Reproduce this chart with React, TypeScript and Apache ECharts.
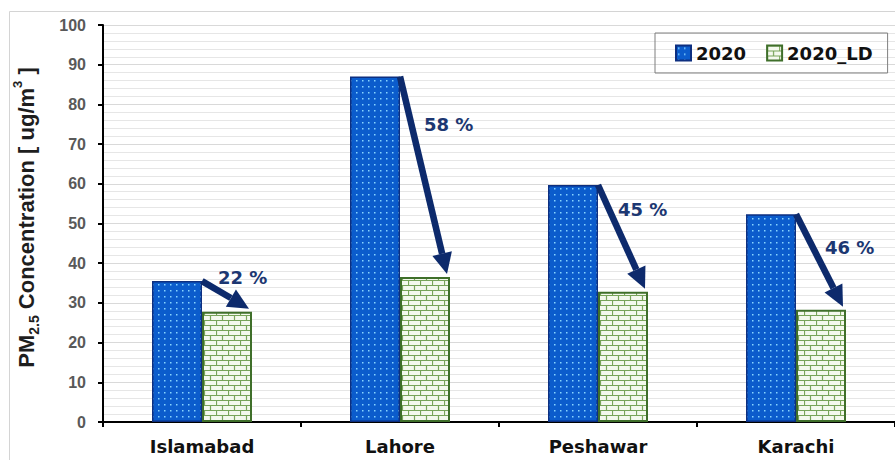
import React, { useEffect, useRef } from "react";
import * as echarts from "echarts";

// ---- data ----
const categories = ["Islamabad", "Lahore", "Peshawar", "Karachi"];
const values2020 = [35.5, 87.0, 59.7, 52.3];
const values2020LD = [27.8, 36.5, 32.8, 28.3];
const reductionLabels = ["22 %", "58 %", "45 %", "46 %"];
const seriesNames = ["2020", "2020_LD"];

// ---- layout of the % labels (value-space y, pixel x offset) ----
const labelAnchorY = [36.3, 74.9, 53.5, 43.9];
const labelDx = [16, 24, 20, 29];

const TICK_FONT = "'Liberation Sans', Arial, sans-serif";
const CAT_FONT = "'DejaVu Sans', sans-serif";
const NAME_FONT = "'Liberation Sans Narrow', 'Liberation Sans', Arial, sans-serif";

function makeDots(): HTMLCanvasElement {
  const c = document.createElement("canvas");
  c.width = 6;
  c.height = 6;
  const g = c.getContext("2d")!;
  g.fillStyle = "#0b5ccc";
  g.fillRect(0, 0, 6, 6);
  g.fillStyle = "#86d4ff";
  g.fillRect(2, 2, 1.5, 1.5);
  return c;
}

function makeBricks(): HTMLCanvasElement {
  const c = document.createElement("canvas");
  c.width = 12;
  c.height = 10;
  const g = c.getContext("2d")!;
  g.fillStyle = "#f4f9ee";
  g.fillRect(0, 0, 12, 10);
  g.strokeStyle = "#78a45a";
  g.lineWidth = 1.2;
  g.beginPath();
  g.moveTo(0, 0.5);
  g.lineTo(12, 0.5);
  g.moveTo(0, 5.5);
  g.lineTo(12, 5.5);
  g.moveTo(0.5, 0);
  g.lineTo(0.5, 5.5);
  g.moveTo(6.5, 5.5);
  g.lineTo(6.5, 10);
  g.stroke();
  return c;
}

export default function App() {
  const ref = useRef<HTMLDivElement>(null);

  useEffect(() => {
    if (!ref.current) return;
    const chart = echarts.init(ref.current, undefined, { renderer: "svg" });

    const dots = makeDots();
    const bricks = makeBricks();

    const arrowData = categories.map((_, i) => [i, values2020[i], values2020LD[i]]);

    const option: any = {
      animation: false,
      backgroundColor: "#ffffff",
      graphic: [
        {
          type: "rect",
          shape: { x: 9.5, y: 11.5, width: 900, height: 460 },
          style: { fill: "none", stroke: "#d4d4d4", lineWidth: 1 },
          z: -10,
          silent: true,
        },
      ],
      legend: {
        left: 655,
        top: 33,
        orient: "horizontal",
        borderColor: "#7f7f7f",
        borderWidth: 1,
        padding: [11, 15, 11, 20],
        itemWidth: 15,
        itemHeight: 15,
        itemGap: 20,
        icon: "rect",
        data: seriesNames,
        textStyle: {
          fontFamily: CAT_FONT,
          fontWeight: "bold",
          fontSize: 18,
          color: "#111111",
        },
      },
      grid: {
        left: 103,
        right: 0,
        top: 25,
        bottom: 38,
        containLabel: false,
        outerBoundsMode: "none",
      },
      xAxis: {
        type: "category",
        data: categories,
        axisLine: { show: true, lineStyle: { color: "#000000", width: 2 } },
        axisTick: { show: true, length: 5, lineStyle: { color: "#000000", width: 2 } },
        axisLabel: {
          fontFamily: CAT_FONT,
          fontWeight: "bold",
          fontSize: 18,
          color: "#111111",
          margin: 15,
        },
        splitLine: { show: false },
      },
      yAxis: {
        type: "value",
        min: 0,
        max: 100,
        interval: 10,
        name: "{m|PM}{s|2.5}{m| Concentration [ ug/m}{p|3}{m| ]}",
        nameLocation: "middle",
        nameGap: 62,
        nameRotate: 90,
        nameTextStyle: {
          padding: [0, 0, 0, 12],
          rich: {
            m: { fontFamily: NAME_FONT, fontWeight: "bold", fontSize: 22, color: "#1e1e1e", lineHeight: 26 },
            s: { fontFamily: NAME_FONT, fontWeight: "bold", fontSize: 14, color: "#1e1e1e", verticalAlign: "bottom", lineHeight: 20 },
            p: { fontFamily: NAME_FONT, fontWeight: "bold", fontSize: 13, color: "#1e1e1e", verticalAlign: "top", lineHeight: 30 },
          },
        },
        axisLine: { show: true, lineStyle: { color: "#000000", width: 2 } },
        axisTick: { show: true, length: 5, lineStyle: { color: "#000000", width: 2 } },
        axisLabel: {
          fontFamily: TICK_FONT,
          fontWeight: "bold",
          fontSize: 16,
          color: "#595959",
          margin: 17,
        },
        splitLine: { show: true, lineStyle: { color: "#d9d9d9", width: 1 } },
        minorTick: { show: false, splitNumber: 5 },
        minorSplitLine: { show: true, lineStyle: { color: "#e6e6e6", width: 1 } },
      },
      series: [
        {
          name: seriesNames[0],
          type: "bar",
          data: values2020,
          barWidth: 50,
          barGap: "0%",
          itemStyle: {
            color: { image: dots, repeat: "repeat", imageWidth: 6, imageHeight: 6 },
            borderColor: "#0d2f80",
            borderWidth: 1.5,
          },
        },
        {
          name: seriesNames[1],
          type: "bar",
          data: values2020LD,
          barWidth: 50,
          barGap: "0%",
          itemStyle: {
            color: { image: bricks, repeat: "repeat", imageWidth: 12, imageHeight: 10 },
            borderColor: "#3f6f2a",
            borderWidth: 2,
          },
        },
        {
          name: "arrows",
          type: "custom",
          coordinateSystem: "cartesian2d",
          data: arrowData,
          encode: { x: 0, y: [1, 2] },
          z: 10,
          silent: true,
          renderItem: (params: any, api: any) => {
            const i = api.value(0);
            const v1 = api.value(1);
            const v2 = api.value(2);
            const a = api.coord([i, v1]);
            const b = api.coord([i, v2]);
            const cx = a[0];
            const sx = cx;
            const sy = a[1];
            const tx = cx + 47;
            const ty = b[1] - 3;
            const dx = tx - sx;
            const dy = ty - sy;
            const len = Math.hypot(dx, dy);
            const ux = dx / len;
            const uy = dy / len;
            const nx = -uy;
            const ny = ux;
            const headLen = 21;
            const headHalf = 10;
            const shaftHalf = 3.3;
            const bx = tx - ux * headLen;
            const by = ty - uy * headLen;
            const color = "#0d2a6c";
            const idx = params.dataIndex;
            const ly = api.coord([i, labelAnchorY[idx]])[1];
            return {
              type: "group",
              children: [
                {
                  type: "polygon",
                  shape: {
                    points: [
                      [sx + nx * shaftHalf, sy + ny * shaftHalf],
                      [bx + nx * shaftHalf, by + ny * shaftHalf],
                      [bx - nx * shaftHalf, by - ny * shaftHalf],
                      [sx - nx * shaftHalf, sy - ny * shaftHalf],
                    ],
                  },
                  style: { fill: color },
                },
                {
                  type: "polygon",
                  shape: {
                    points: [
                      [tx, ty],
                      [bx + nx * headHalf, by + ny * headHalf],
                      [bx - nx * headHalf, by - ny * headHalf],
                    ],
                  },
                  style: { fill: color },
                },
                {
                  type: "text",
                  x: cx + labelDx[idx],
                  y: ly,
                  style: {
                    text: reductionLabels[idx],
                    fill: "#1c3772",
                    font: "bold 18px " + CAT_FONT,
                    align: "left",
                    verticalAlign: "middle",
                  },
                },
              ],
            };
          },
        },
      ],
    };

    chart.setOption(option);
    return () => chart.dispose();
  }, []);

  return (
    <div
      ref={ref}
      style={{ position: "fixed", left: 0, top: 0, width: 895, height: 460 }}
    />
  );
}
